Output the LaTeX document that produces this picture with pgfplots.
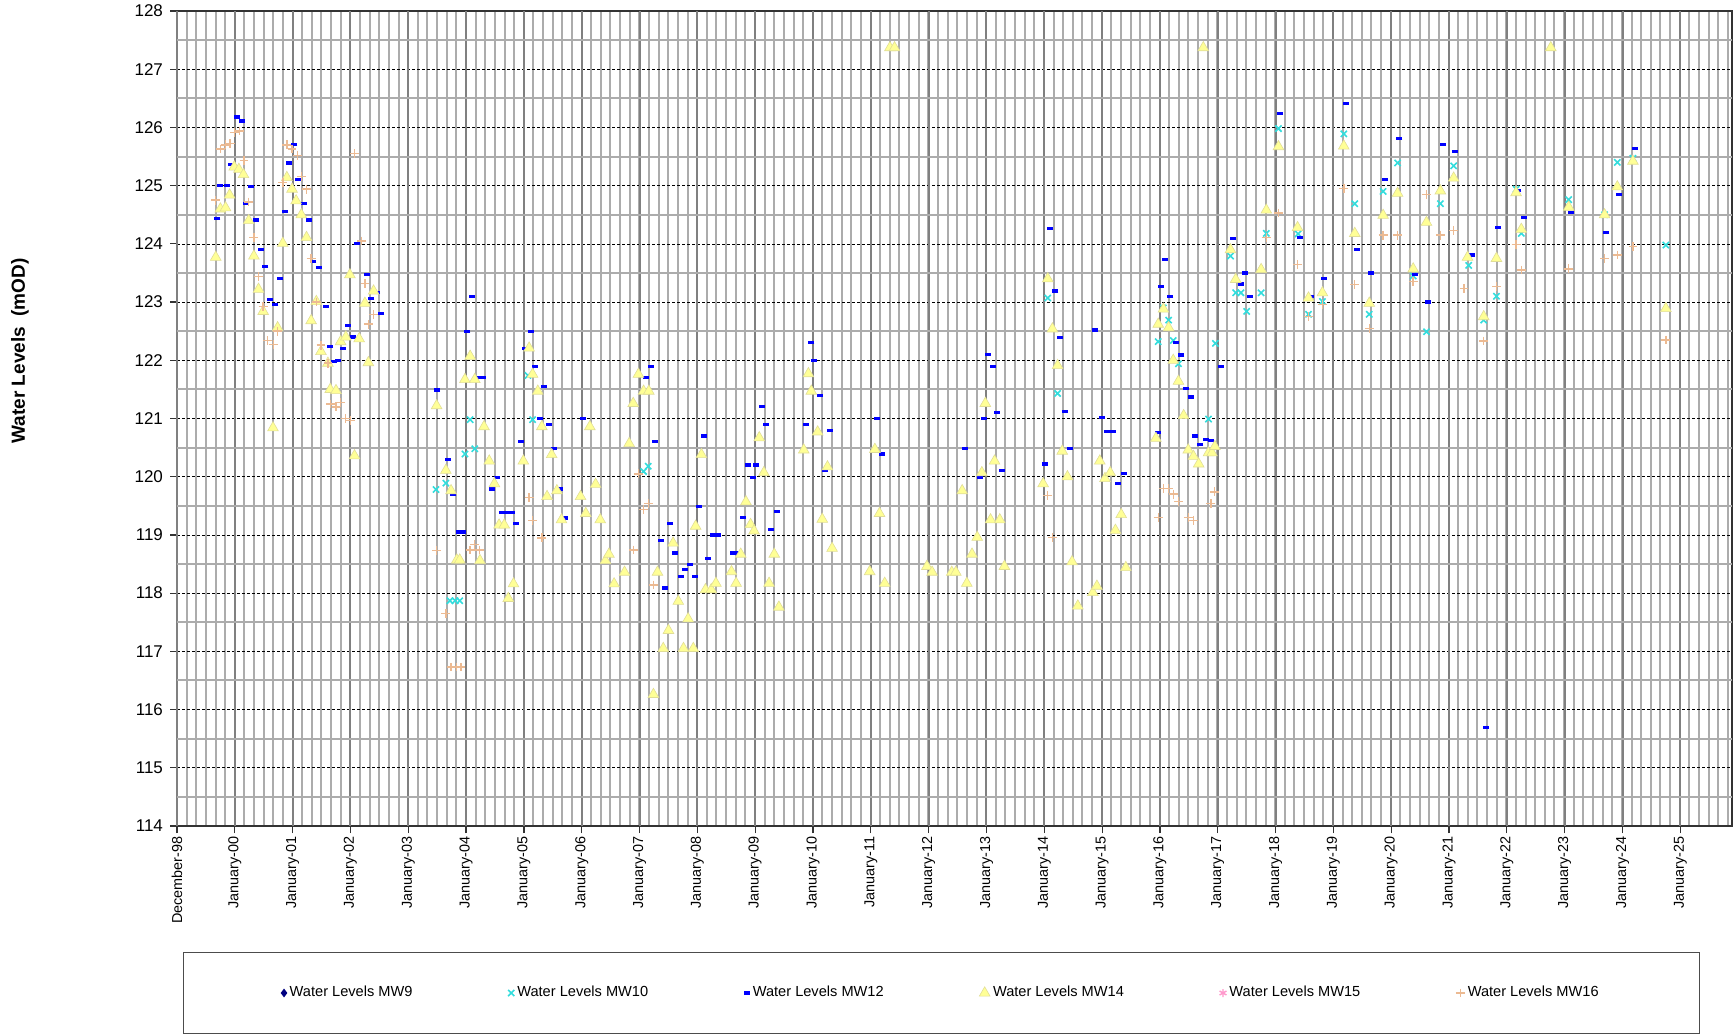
\documentclass[border=0pt]{standalone}
\usepackage{fontspec}
\setmainfont{Liberation Sans}
\usepackage{pgfplots}
\pgfplotsset{compat=1.18}
\definecolor{mwnine}{RGB}{0,0,128}
\definecolor{mwten}{RGB}{51,221,221}
\definecolor{mwtwelve}{RGB}{0,0,255}
\definecolor{mwfourteen}{RGB}{255,255,150}
\definecolor{mwfourteenedge}{RGB}{225,222,150}
\definecolor{mwfifteen}{RGB}{255,153,204}
\definecolor{mwsixteen}{RGB}{236,186,146}
\definecolor{gridminor}{RGB}{172,172,172}
\definecolor{gridmajor}{RGB}{128,128,128}
\pgfplotsset{
  lgimg/.style={legend image code/.code={\draw[mark repeat=2,mark phase=2,##1] plot coordinates {(0pt,0pt)(3pt,0pt)(6pt,0pt)};}},
  sMWnine/.style={only marks, lgimg, mark=diamond*, mark size=1.8pt, color=mwnine},
  sMWten/.style={only marks, lgimg, mark=x, mark size=2.2pt, color=mwten, mark options={line width=0.8pt}},
  sMWtwelve/.style={only marks, lgimg, mark=-, mark size=1.5pt, color=mwtwelve, mark options={line width=1.6pt}},
  sMWfourteen/.style={only marks, lgimg, mark=triangle*, mark size=3.1pt, mark options={fill=mwfourteen, draw=mwfourteenedge, line width=0.3pt}},
  sMWfifteen/.style={only marks, lgimg, mark=asterisk, mark size=2pt, color=mwfifteen, mark options={line width=0.7pt}},
  sMWsixteen/.style={only marks, lgimg, mark=+, mark size=2.2pt, color=mwsixteen, mark options={line width=0.7pt}},
}
\begin{document}
\begin{tikzpicture}
\useasboundingbox (-88.5pt,-104pt) rectangle (779.5pt,413pt);
\begin{axis}[
  at={(0pt,0pt)}, anchor=south west,
  scale only axis, width=777.5pt, height=407.5pt,
  xmin=1999, xmax=2025.894, ymin=114, ymax=128,
  xtick={1999,2000,...,2025},
  xticklabels={December-98,January-00,January-01,January-02,January-03,January-04,January-05,January-06,January-07,January-08,January-09,January-10,January-11,January-12,January-13,January-14,January-15,January-16,January-17,January-18,January-19,January-20,January-21,January-22,January-23,January-24,January-25},
  minor xtick={1999.1666667,1999.3333333,...,2025.85},
  ytick={114,115,...,128},
  tick pos=left, tick align=outside, major tick length=3.5pt, minor tick length=0pt,
  xminorgrids=true, ymajorgrids=true, xmajorgrids=false,
  major grid style={black, line width=0.35pt, dash pattern=on 1.5pt off 1pt},
  minor grid style={gridminor, line width=1pt},
  extra x ticks={1999,2000,...,2025}, extra x tick labels={},
  extra x tick style={grid=major, major grid style={gridmajor, line width=1pt, solid}},
  extra y ticks={114.5,115.5,...,127.5}, extra y tick labels={},
  extra y tick style={grid=major, major grid style={gridminor, line width=1pt, solid}, major tick length=0pt},
  axis line style={black!80, line width=0.7pt},
  tick style={black!80, line width=0.6pt},
  /pgf/number format/assume math mode=true,
  yticklabel style={font=\fontsize{8.5}{10}\selectfont},
  xticklabel style={font=\fontsize{7.2}{8.5}\selectfont, rotate=90, anchor=east, inner sep=1.5pt},
  ylabel={Water Levels\ \ (mOD)},
  ylabel style={font=\fontsize{9.5}{11}\selectfont\bfseries, at={(axis description cs:-0.101,0.583)}, anchor=center},
  legend columns=6,
  legend style={at={(axis description cs:0.00386,-0.1546)}, anchor=north west, draw=black!70, line width=0.5pt,
    minimum width=758pt, minimum height=40.5pt, font=\fontsize{7.3}{9}\selectfont,
    /tikz/every even column/.append style={column sep=46.3pt},
    nodes={inner xsep=1.5pt, inner ysep=1pt, minimum width=0pt, minimum height=0pt}},
]
\addlegendimage{sMWnine}
\addlegendentry{Water Levels MW9}

\addplot[sMWten] coordinates {
(2003.48,119.78) (2003.65,119.89) (2003.72,117.87) (2003.81,117.87) (2003.89,117.87)
(2003.98,120.39) (2004.07,120.98) (2004.15,120.48) (2005.07,121.74) (2005.15,120.98)
(2007.07,120.09) (2007.15,120.18) (2014.06,123.07) (2014.23,121.43) (2015.97,122.32)
(2016.06,122.90) (2016.15,122.69) (2016.23,122.34) (2016.32,121.94) (2016.84,120.99)
(2016.96,122.29) (2017.22,123.79) (2017.31,123.16) (2017.40,123.16) (2017.50,122.84)
(2017.75,123.16) (2017.84,124.18) (2018.05,125.98) (2018.39,124.17) (2018.57,122.79)
(2018.81,123.01) (2019.18,125.89) (2019.37,124.69) (2019.62,122.79) (2019.86,124.90)
(2020.11,125.39) (2020.38,123.45) (2020.61,122.49) (2020.85,124.69) (2021.08,125.34)
(2021.34,123.63) (2021.60,122.69) (2021.82,123.10) (2022.16,124.94) (2022.25,124.18)
(2023.07,124.76) (2023.69,124.50) (2023.91,125.40) (2024.18,125.47) (2024.75,123.98)
};
\addlegendentry{Water Levels MW10}

\addplot[sMWtwelve] coordinates {
(1999.70,124.43) (1999.75,125.00) (1999.87,125.00) (1999.94,125.37) (2000.04,126.18)
(2000.12,126.11) (2000.19,124.70) (2000.28,124.98) (2000.37,124.41) (2000.45,123.90)
(2000.53,123.61) (2000.61,123.04) (2000.70,122.96) (2000.79,123.40) (2000.87,124.55)
(2000.94,125.39) (2001.03,125.71) (2001.10,125.10) (2001.19,124.70) (2001.28,124.41)
(2001.36,123.70) (2001.45,123.59) (2001.58,122.92) (2001.65,122.23) (2001.71,121.98)
(2001.78,122.00) (2001.87,122.20) (2001.95,122.60) (2002.04,122.40) (2002.11,124.01)
(2002.29,123.47) (2002.36,123.06) (2002.46,123.16) (2002.53,122.80) (2003.50,121.49)
(2003.69,120.30) (2003.78,119.70) (2003.87,119.05) (2003.95,119.05) (2004.02,122.50)
(2004.11,123.10) (2004.24,121.70) (2004.29,121.70) (2004.44,119.79) (2004.53,119.99)
(2004.62,119.39) (2004.70,119.39) (2004.79,119.39) (2004.86,119.19) (2004.95,120.60)
(2005.02,122.20) (2005.12,122.50) (2005.19,121.89) (2005.28,121.00) (2005.35,121.55)
(2005.44,120.90) (2005.52,120.49) (2005.62,119.79) (2005.71,119.29) (2006.02,121.00)
(2007.11,121.70) (2007.19,121.89) (2007.27,120.60) (2007.37,118.90) (2007.44,118.09)
(2007.53,119.19) (2007.61,118.69) (2007.71,118.29) (2007.79,118.40) (2007.87,118.49)
(2007.96,118.29) (2008.02,119.49) (2008.11,120.70) (2008.18,118.60) (2008.27,119.00)
(2008.36,119.00) (2008.62,118.69) (2008.67,118.69) (2008.79,119.30) (2008.88,120.20)
(2008.96,119.99) (2009.02,120.20) (2009.11,121.20) (2009.19,120.90) (2009.28,119.09)
(2009.37,119.40) (2009.88,120.90) (2009.97,122.30) (2010.01,122.00) (2010.12,121.40)
(2010.20,120.10) (2010.29,120.80) (2011.10,121.00) (2011.19,120.39) (2012.62,120.49)
(2012.88,119.99) (2012.96,121.00) (2013.02,122.10) (2013.11,121.90) (2013.18,121.10)
(2013.26,120.10) (2014.01,120.22) (2014.10,124.26) (2014.19,123.19) (2014.27,122.39)
(2014.35,121.12) (2014.44,120.49) (2014.88,122.52) (2015.00,121.02) (2015.08,120.77)
(2015.18,120.77) (2015.27,119.89) (2015.37,120.05) (2015.97,120.76) (2016.01,123.27)
(2016.09,123.73) (2016.18,123.10) (2016.28,122.31) (2016.37,122.09) (2016.45,121.51)
(2016.53,121.37) (2016.61,120.70) (2016.70,120.56) (2016.79,120.64) (2016.88,120.62)
(2017.05,121.90) (2017.27,124.09) (2017.40,123.31) (2017.47,123.50) (2017.55,123.10)
(2018.08,126.24) (2018.42,124.11) (2018.61,123.09) (2018.84,123.40) (2019.21,126.41)
(2019.40,123.90) (2019.65,123.50) (2019.89,125.11) (2020.14,125.81) (2020.41,123.47)
(2020.64,123.00) (2020.89,125.71) (2021.10,125.58) (2021.39,123.81) (2021.64,115.69)
(2021.85,124.28) (2022.20,124.92) (2022.29,124.45) (2023.11,124.54) (2023.72,124.20)
(2023.94,124.85) (2024.21,125.64)
};
\addlegendentry{Water Levels MW12}

\addplot[sMWfourteen] coordinates {
(1999.67,123.77) (1999.75,124.60) (1999.84,124.62) (1999.91,124.84) (1999.99,125.32)
(2000.07,125.28) (2000.15,125.19) (2000.24,124.40) (2000.33,123.79) (2000.41,123.22)
(2000.49,122.84) (2000.66,120.84) (2000.74,122.56) (2000.83,124.01) (2000.90,125.14)
(2000.99,124.94) (2001.06,124.74) (2001.15,124.50) (2001.24,124.11) (2001.32,122.68)
(2001.41,123.01) (2001.49,122.15) (2001.61,121.95) (2001.65,121.50) (2001.75,121.48)
(2001.83,122.32) (2001.92,122.40) (2001.99,123.47) (2002.07,120.36) (2002.15,122.37)
(2002.25,122.98) (2002.31,121.96) (2002.40,123.19) (2003.49,121.22) (2003.65,120.11)
(2003.74,119.76) (2003.84,118.57) (2003.89,118.57) (2003.98,121.67) (2004.07,122.07)
(2004.15,121.67) (2004.24,118.56) (2004.31,120.86) (2004.40,120.27) (2004.49,119.88)
(2004.57,119.17) (2004.66,119.17) (2004.73,117.91) (2004.82,118.16) (2004.99,120.27)
(2005.09,122.21) (2005.15,121.76) (2005.24,121.47) (2005.31,120.86) (2005.40,119.66)
(2005.48,120.38) (2005.57,119.76) (2005.65,119.26) (2005.98,119.66) (2006.07,119.37)
(2006.14,120.86) (2006.24,119.87) (2006.32,119.26) (2006.41,118.56) (2006.47,118.67)
(2006.56,118.16) (2006.74,118.36) (2006.82,120.57) (2006.89,121.26) (2006.98,121.76)
(2007.07,121.47) (2007.16,121.47) (2007.24,116.26) (2007.31,118.36) (2007.41,117.05)
(2007.50,117.36) (2007.58,118.86) (2007.67,117.86) (2007.76,117.05) (2007.84,117.56)
(2007.93,117.05) (2007.97,119.15) (2008.07,120.38) (2008.14,118.06) (2008.24,118.06)
(2008.32,118.17) (2008.59,118.37) (2008.67,118.17) (2008.75,118.67) (2008.84,119.57)
(2008.92,119.18) (2008.98,119.07) (2009.07,120.67) (2009.15,120.07) (2009.24,118.17)
(2009.33,118.67) (2009.41,117.76) (2009.84,120.46) (2009.92,121.77) (2009.97,121.47)
(2010.08,120.77) (2010.16,119.27) (2010.25,120.17) (2010.33,118.77) (2010.98,118.37)
(2011.07,120.47) (2011.15,119.37) (2011.24,118.17) (2011.33,127.37) (2011.41,127.37)
(2011.97,118.46) (2012.06,118.36) (2012.40,118.36) (2012.47,118.36) (2012.58,119.76)
(2012.66,118.17) (2012.75,118.67) (2012.84,118.96) (2012.92,120.07) (2012.98,121.26)
(2013.07,119.26) (2013.14,120.27) (2013.23,119.26) (2013.31,118.46) (2013.98,119.88)
(2014.06,123.40) (2014.14,122.54) (2014.23,121.91) (2014.31,120.44) (2014.40,120.00)
(2014.48,118.54) (2014.58,117.78) (2014.84,118.01) (2014.91,118.12) (2014.96,120.27)
(2015.05,119.97) (2015.14,120.07) (2015.23,119.08) (2015.33,119.35) (2015.41,118.44)
(2015.93,120.66) (2015.97,122.62) (2016.06,122.88) (2016.15,122.56) (2016.23,122.00)
(2016.32,121.64) (2016.41,121.05) (2016.49,120.46) (2016.58,120.35) (2016.67,120.22)
(2016.75,127.37) (2016.84,120.41) (2016.90,120.41) (2016.95,120.52) (2017.22,123.90)
(2017.31,123.39) (2017.75,123.56) (2017.84,124.58) (2018.05,125.67) (2018.38,124.28)
(2018.57,123.07) (2018.81,123.16) (2019.18,125.68) (2019.37,124.18) (2019.62,122.98)
(2019.86,124.49) (2020.11,124.87) (2020.38,123.57) (2020.61,124.37) (2020.85,124.91)
(2021.08,125.13) (2021.32,123.77) (2021.60,122.75) (2021.82,123.75) (2022.16,124.88)
(2022.25,124.25) (2022.76,127.37) (2023.07,124.63) (2023.69,124.50) (2023.91,124.98)
(2024.18,125.42) (2024.75,122.89)
};
\addlegendentry{Water Levels MW14}

\addlegendimage{sMWfifteen}
\addlegendentry{Water Levels MW15}

\addplot[sMWsixteen] coordinates {
(1999.67,124.75) (1999.75,125.63) (1999.84,125.70) (1999.92,125.72) (1999.99,125.91)
(2000.08,125.94) (2000.16,125.43) (2000.24,124.72) (2000.33,124.11) (2000.41,123.44)
(2000.49,122.92) (2000.57,122.34) (2000.67,122.27) (2000.74,122.50) (2000.83,125.05)
(2000.90,125.70) (2000.99,125.63) (2001.08,125.52) (2001.15,125.16) (2001.24,124.94)
(2001.32,123.75) (2001.41,123.00) (2001.49,122.26) (2001.61,121.95) (2001.65,121.25)
(2001.75,121.20) (2001.83,121.28) (2001.91,121.00) (2002.00,120.97) (2002.07,125.55)
(2002.19,124.05) (2002.25,123.32) (2002.31,122.62) (2002.40,122.79) (2003.49,118.73)
(2003.65,117.65) (2003.74,116.73) (2003.83,116.73) (2003.91,116.73) (2004.07,118.74)
(2004.15,118.84) (2004.23,118.74) (2005.09,119.64) (2005.15,119.25) (2005.31,118.95)
(2006.90,118.74) (2006.98,120.05) (2007.07,119.44) (2007.15,119.54) (2007.24,118.14)
(2014.06,119.68) (2014.14,118.96) (2015.97,119.30) (2016.06,119.80) (2016.15,119.80)
(2016.23,119.70) (2016.32,119.57) (2016.49,119.30) (2016.58,119.25) (2016.88,119.54)
(2016.94,119.74) (2017.84,124.11) (2018.05,124.53) (2018.38,123.65) (2018.57,122.75)
(2018.81,122.96) (2019.18,124.95) (2019.37,123.30) (2019.62,122.55) (2019.86,124.15)
(2020.11,124.15) (2020.38,123.35) (2020.61,124.85) (2020.85,124.15) (2021.08,124.23)
(2021.26,123.23) (2021.60,122.33) (2021.82,123.27) (2022.16,123.99) (2022.25,123.55)
(2023.07,123.57) (2023.69,123.75) (2023.91,123.81) (2024.18,123.95) (2024.75,122.35)
};
\addlegendentry{Water Levels MW16}
\end{axis}
\end{tikzpicture}
\end{document}
